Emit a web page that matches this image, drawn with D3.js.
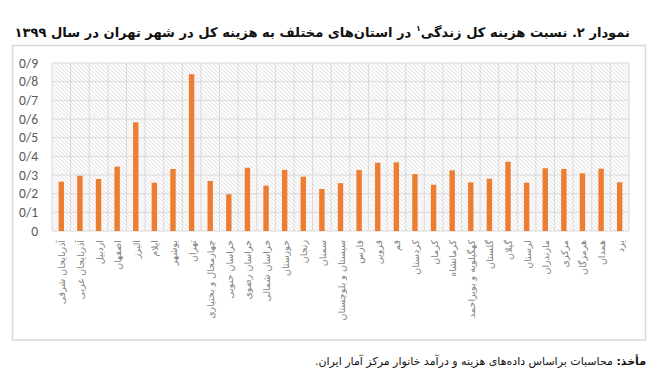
<!DOCTYPE html>
<html>
<head>
<meta charset="utf-8">
<script src="https://cdn.jsdelivr.net/npm/d3@7"></script>
<style>
  body { margin: 0; background: #fff; }
  svg { display: block; }
</style>
</head>
<body>
<div id="chart"></div>
<script>
// Provinces, left to right as in the chart
const provinces = [
    "آذربایجان شرقی", "آذربایجان غربی", "اردبیل", "اصفهان", "البرز", "ایلام",
    "بوشهر", "تهران", "چهارمحال و بختیاری", "خراسان جنوبی", "خراسان رضوی",
    "خراسان شمالی", "خوزستان", "زنجان", "سمنان", "سیستان و بلوچستان", "فارس",
    "قزوین", "قم", "کردستان", "کرمان", "کرمانشاه", "کهگیلویه و بویراحمد",
    "گلستان", "گیلان", "لرستان", "مازندران", "مرکزی", "هرمزگان", "همدان", "یزد"
];
// Ratio of total cost of living to Tehran city
const ratios = [
    0.264, 0.296, 0.279, 0.345, 0.582, 0.259,
    0.332, 0.840, 0.268, 0.197, 0.339,
    0.243, 0.327, 0.291, 0.225, 0.256, 0.327,
    0.366, 0.368, 0.305, 0.248, 0.325, 0.261,
    0.280, 0.371, 0.259, 0.336, 0.332, 0.309, 0.334, 0.261
];
const yTicks = [0, 0.1, 0.2, 0.3, 0.4, 0.5, 0.6, 0.7, 0.8, 0.9];
const yTickLabels = ["0", "0/1", "0/2", "0/3", "0/4", "0/5", "0/6", "0/7", "0/8", "0/9"];

const titleText = "نمودار ۲. نسبت هزینه کل زندگی";
const titleRest = " در استان‌های مختلف به هزینه کل در شهر تهران در سال ۱۳۹۹";
const sourceBold = "مأخذ:";
const sourceText = " محاسبات براساس داده‌های هزینه و درآمد خانوار مرکز آمار ایران.";

const width = 657, height = 379;
const margin = { top: 63, right: 28, bottom: 148, left: 52 };
const plotW = width - margin.left - margin.right;
const plotH = height - margin.top - margin.bottom;

const svg = d3.select("#chart").append("svg")
    .attr("width", width)
    .attr("height", height);

// hatched plot background
const defs = svg.append("defs");
const pat = defs.append("pattern")
    .attr("id", "hatch")
    .attr("patternUnits", "userSpaceOnUse")
    .attr("width", 4)
    .attr("height", 4);
pat.append("rect").attr("width", 4).attr("height", 4).attr("fill", "#fbfbfb");
pat.append("path")
    .attr("d", "M-1,-1L5,5M-1,3L1,5M3,-1L5,1")
    .attr("stroke", "#dedede")
    .attr("stroke-width", 0.8);

// outer chart frame
svg.append("rect")
    .attr("x", 12.5).attr("y", 45.5)
    .attr("width", 633).attr("height", 294.5)
    .attr("fill", "none")
    .attr("stroke", "#d9d9d9")
    .attr("stroke-width", 1.5);

const x = d3.scaleBand()
    .domain(provinces)
    .range([0, plotW])
    .paddingInner(0.71)
    .paddingOuter(0.355);

const y = d3.scaleLinear()
    .domain([0, 0.9])
    .range([plotH, 0]);

const g = svg.append("g")
    .attr("transform", `translate(${margin.left},${margin.top})`);

g.append("rect")
    .attr("width", plotW)
    .attr("height", plotH)
    .attr("fill", "url(#hatch)");

// horizontal grid
g.selectAll(".hgrid")
    .data(yTicks)
    .enter().append("line")
    .attr("x1", 0).attr("x2", plotW)
    .attr("y1", d => y(d)).attr("y2", d => y(d))
    .attr("stroke", "#d9d9d9")
    .attr("stroke-width", 1);

// vertical grid at category boundaries
const boundaries = d3.range(provinces.length + 1).map(i => i * plotW / provinces.length);
g.selectAll(".vgrid")
    .data(boundaries)
    .enter().append("line")
    .attr("x1", d => d).attr("x2", d => d)
    .attr("y1", 0).attr("y2", plotH)
    .attr("stroke", "#d9d9d9")
    .attr("stroke-width", 1);

// bars
g.selectAll(".bar")
    .data(ratios)
    .enter().append("rect")
    .attr("x", (d, i) => x(provinces[i]))
    .attr("y", d => y(d))
    .attr("width", x.bandwidth())
    .attr("height", d => plotH - y(d))
    .attr("fill", "#ed7d31");

// y axis labels
const yAxis = d3.axisLeft(y)
    .tickValues(yTicks)
    .tickFormat((d, i) => yTickLabels[i])
    .tickSize(0)
    .tickPadding(14);
g.append("g")
    .call(yAxis)
    .call(a => a.select(".domain").remove())
    .selectAll("text")
    .attr("fill", "#595959")
    .style("font-family", "Calibri, Carlito, 'Liberation Sans', sans-serif")
    .style("font-size", "13.5px");

// x labels, rotated
g.selectAll(".xlab")
    .data(provinces)
    .enter().append("text")
    .attr("transform", d => `translate(${x(d) + x.bandwidth() / 2 + 4},${plotH + 9}) rotate(-90)`)
    .attr("text-anchor", "end")
    .attr("fill", "#7f7f7f")
    .style("font-family", "'DejaVu Sans', sans-serif")
    .style("font-size", "9.5px")
    .text(d => d);

// title
const title = svg.append("text")
    .attr("x", 630)
    .attr("y", 37)
    .attr("direction", "rtl")
    .attr("text-anchor", "start")
    .attr("fill", "#111")
    .style("font-family", "'DejaVu Sans', sans-serif")
    .style("font-weight", "bold")
    .style("font-size", "14px");
title.append("tspan").text(titleText);
title.append("tspan").attr("font-size", "8px").attr("dy", -6).text("۱");
title.append("tspan").attr("dy", 6).text(titleRest);
// shrink to fit the width the reference title spans
const tw = title.node().getComputedTextLength();
if (tw > 616) title.style("font-size", (14 * 616 / tw) + "px");

// source note
const src = svg.append("text")
    .attr("x", 646)
    .attr("y", 365)
    .attr("direction", "rtl")
    .attr("text-anchor", "start")
    .attr("fill", "#111")
    .style("font-family", "'DejaVu Sans', sans-serif")
    .style("font-size", "11px");
src.append("tspan").style("font-weight", "bold").text(sourceBold);
src.append("tspan").text(sourceText);
</script>
</body>
</html>
